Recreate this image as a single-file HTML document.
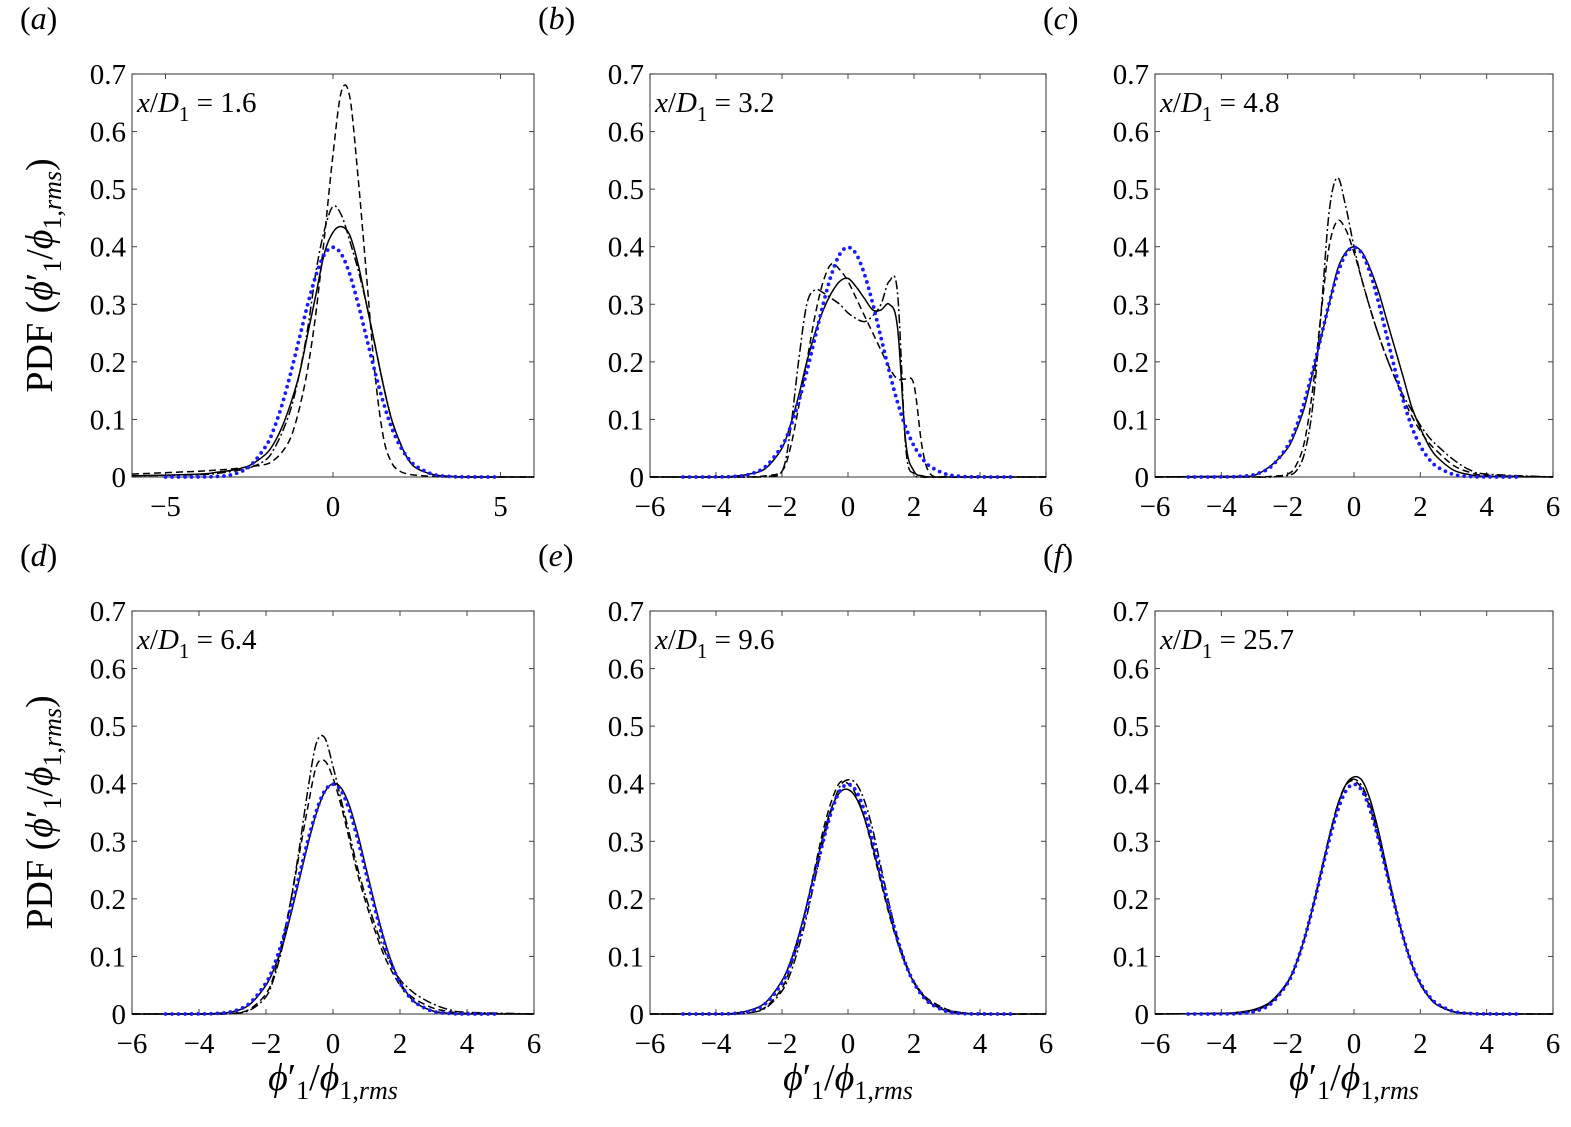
<!DOCTYPE html>
<html><head><meta charset="utf-8">
<style>
html,body{margin:0;padding:0;background:#fff;}
svg{display:block;font-family:"Liberation Serif","DejaVu Serif",serif;}
</style></head>
<body>
<svg id="fig" width="1571" height="1127" viewBox="0 0 1571 1127" xmlns="http://www.w3.org/2000/svg"></svg>
<script>
const xs = [-6,-4,-3.5,-3,-2.5,-2,-1.75,-1.5,-1.25,-1,-0.75,-0.5,-0.25,0,0.25,0.5,0.75,1,1.25,1.5,1.75,2,2.25,2.5,3,3.5,4,6];
const gx = [-5,-4,-3.5,-3,-2.5,-2,-1.75,-1.5,-1.25,-1,-0.75,-0.5,-0.25,0,0.25,0.5,0.75,1,1.25,1.5,1.75,2,2.25,2.5,3,3.5,4,5];
const gaussVals = [0,.0001,.0009,.0044,.018,.054,.086,.13,.183,.242,.301,.352,.387,.399,.387,.352,.301,.242,.183,.13,.086,.054,.032,.018,.0044,.0009,.0001,0];
const panelLabels = ["a","b","c","d","e","f"];
const stations = ["1.6","3.2","4.8","6.4","9.6","25.7"];
const yTicks = [0,0.1,0.2,0.3,0.4,0.5,0.6,0.7];
const xTicksA = [-5,0,5];
const xTicksOther = [-6,-4,-2,0,2,4,6];
const solidA = [.002,.005,.008,.012,.02,.04,.06,.09,.13,.18,.25,.32,.39,.425,.435,.42,.37,.30,.23,.16,.10,.06,.03,.015,.004,.001,0,0];
const dashedA = [.005,.01,.012,.014,.018,.022,.03,.045,.07,.12,.19,.29,.42,.56,.67,.66,.52,.35,.18,.07,.025,.01,.005,.003,.001,0,0,0];
const dashdotA = [.002,.004,.006,.01,.016,.03,.05,.08,.12,.18,.26,.36,.43,.47,.455,.41,.36,.30,.23,.16,.10,.06,.03,.015,.004,.001,0,0];
const solidB = [0,0,.001,.005,.015,.05,.09,.14,.2,.25,.29,.32,.34,.345,.33,.31,.29,.29,.30,.26,.06,.01,.002,0,0,0,0,0];
const dashedB = [0,0,0,0,.002,.01,.05,.12,.2,.28,.34,.37,.36,.34,.31,.28,.25,.22,.19,.17,.17,.16,.05,.005,0,0,0,0];
const dashdotB = [0,0,0,0,.001,.01,.08,.2,.3,.325,.32,.31,.30,.285,.275,.27,.28,.30,.34,.32,.05,.005,0,0,0,0,0,0];
const solidC = [0,.001,.001,.003,.02,.05,.08,.12,.18,.24,.30,.36,.39,.40,.39,.36,.32,.27,.22,.17,.12,.085,.055,.035,.012,.004,.001,0];
const dashedC = [0,0,0,0,.001,.005,.02,.06,.15,.28,.40,.445,.43,.39,.34,.29,.245,.205,.17,.135,.105,.08,.06,.045,.02,.008,.003,0];
const dashdotC = [0,0,0,0,0,.003,.01,.04,.12,.28,.46,.52,.47,.40,.34,.29,.245,.205,.17,.14,.115,.09,.07,.055,.03,.012,.005,0];
const solidD = [0,0,.001,.004,.016,.05,.08,.12,.175,.235,.295,.348,.385,.40,.392,.36,.31,.25,.19,.135,.09,.056,.033,.018,.005,.001,0,0];
const dashedD = [0,0,0,.001,.008,.035,.07,.13,.2,.28,.36,.43,.44,.41,.36,.30,.24,.19,.145,.105,.075,.05,.035,.024,.01,.004,.001,0];
const dashdotD = [0,0,0,.001,.006,.03,.065,.12,.2,.29,.39,.47,.48,.43,.37,.31,.25,.20,.155,.115,.085,.06,.045,.033,.017,.007,.003,0];
const solidE = [0,0,.001,.006,.02,.058,.09,.135,.19,.25,.31,.358,.385,.39,.375,.34,.29,.232,.176,.126,.085,.054,.033,.019,.005,.001,0,0];
const dashedE = [0,0,0,.002,.012,.045,.08,.128,.19,.255,.32,.37,.402,.40,.38,.34,.285,.228,.172,.124,.085,.056,.036,.023,.008,.002,0,0];
const dashdotE = [0,0,0,.002,.01,.04,.07,.115,.17,.235,.30,.355,.395,.407,.40,.37,.32,.255,.19,.132,.088,.056,.035,.021,.007,.002,0,0];
const solidF = [0,.001,.003,.008,.022,.056,.087,.13,.183,.243,.305,.36,.398,.412,.405,.37,.315,.25,.186,.13,.085,.052,.03,.016,.004,.001,0,0];
const dashedF = [0,.001,.002,.006,.02,.055,.087,.131,.185,.246,.308,.362,.397,.405,.39,.355,.302,.243,.183,.13,.086,.053,.031,.017,.004,.001,0,0];
const dashdotF = [0,.001,.002,.006,.02,.054,.086,.13,.184,.245,.307,.362,.398,.408,.395,.36,.305,.245,.184,.13,.086,.053,.031,.017,.004,.001,0,0];

const solids=[solidA,solidB,solidC,solidD,solidE,solidF];
const dasheds=[dashedA,dashedB,dashedC,dashedD,dashedE,dashedF];
const dashdots=[dashdotA,dashdotB,dashdotC,dashdotD,dashdotE,dashdotF];

const NS="http://www.w3.org/2000/svg";
const svg=document.getElementById('fig');
function mk(tag,attrs,parent){const e=document.createElementNS(NS,tag);for(const k in attrs)e.setAttribute(k,attrs[k]);(parent||svg).appendChild(e);return e;}
function smooth(pts){
  let d=`M${pts[0][0].toFixed(1)},${pts[0][1].toFixed(1)}`;
  for(let i=0;i<pts.length-1;i++){
    const p0=pts[Math.max(0,i-1)],p1=pts[i],p2=pts[i+1],p3=pts[Math.min(pts.length-1,i+2)];
    const c1=[p1[0]+(p2[0]-p0[0])/6,p1[1]+(p2[1]-p0[1])/6];
    const c2=[p2[0]-(p3[0]-p1[0])/6,p2[1]-(p3[1]-p1[1])/6];
    d+=`C${c1[0].toFixed(1)},${c1[1].toFixed(1)} ${c2[0].toFixed(1)},${c2[1].toFixed(1)} ${p2[0].toFixed(1)},${p2[1].toFixed(1)}`;
  }
  return d;
}
const cols=[[132,534],[650,1046],[1155,1553]];
const rows=[[74,477],[611,1014]];
for(let p=0;p<6;p++){
  const [L,R]=cols[p%3],[T,B]=rows[Math.floor(p/3)];
  const g=mk('g',{});
  
  
  const xmin=-6,xmax=6,ymax=0.7;
  const X=v=>L+(v-xmin)/(xmax-xmin)*(R-L);
  const Y=v=>B-v/ymax*(B-T);
  const lab=mk('text',{x:L-112,y:T-45,'font-size':32},g);
  lab.innerHTML='(<tspan font-style="italic">'+panelLabels[p]+'</tspan>)';
  
  
  const fr=mk('rect',{x:L,y:T,width:R-L,height:B-T,fill:'none',stroke:'#555','stroke-width':1.2},g);
  
  
  yTicks.forEach(t=>{
    mk('line',{x1:L,x2:L+5,y1:Y(t),y2:Y(t),stroke:'#444'},g);
    mk('line',{x1:R,x2:R-5,y1:Y(t),y2:Y(t),stroke:'#444'},g);
    const tl=mk('text',{x:L-6,y:Y(t)+10,'font-size':29,'text-anchor':'end'},g);
    tl.textContent=String(t);
    
    
  });
  const xt=p===0?xTicksA:xTicksOther;
  xt.forEach(t=>{
    mk('line',{x1:X(t),x2:X(t),y1:B,y2:B-5,stroke:'#444'},g);
    mk('line',{x1:X(t),x2:X(t),y1:T,y2:T+5,stroke:'#444'},g);
    const tl=mk('text',{x:X(t),y:B+39,'font-size':29,'text-anchor':'middle'},g);
    tl.textContent=t<0?'\u2212'+(-t):String(t);
    
    
  });
  const st=mk('text',{x:L+5,y:T+38,'font-size':29},g);
  st.innerHTML='<tspan font-style="italic">x</tspan>/<tspan font-style="italic">D</tspan><tspan font-size="21" dy="9">1</tspan><tspan dy="-9"> = '+stations[p]+'</tspan>';
  
  
  const series=[[solids[p],'none','solid-line'],[dasheds[p],'7 4','dashed-line'],[dashdots[p],'9 3 2 3','dashdot-line']];
  series.forEach(([vals,da,nm])=>{
    const pts=xs.map((x,i)=>[X(x),Y(vals[i])]);
    const pa=mk('path',{d:smooth(pts),fill:'none',stroke:'#000','stroke-width':1.5,'stroke-dasharray':da},g);
    
    
  });
  const gp=gx.map((x,i)=>[X(x),Y(gaussVals[i])]);
  const gpath=mk('path',{d:smooth(gp),fill:'none',stroke:'#1a1aff','stroke-width':3.8,'stroke-linecap':'round','stroke-dasharray':'0 6.5'},g);
  
  
  if(p%3===0){
    const cy=(T+B)/2;
    const yl=mk('text',{x:0,y:0,'font-size':38,'text-anchor':'middle',transform:`translate(52,${cy}) rotate(-90)`},g);
    yl.innerHTML='PDF (<tspan font-style="italic">ϕ</tspan>′<tspan font-size="26" dy="9">1</tspan><tspan dy="-9">/</tspan><tspan font-style="italic">ϕ</tspan><tspan font-size="26" dy="9">1,<tspan font-style="italic">rms</tspan></tspan><tspan dy="-9">)</tspan>';
    
    
  }
  if(p>=3){
    const xl=mk('text',{x:(L+R)/2,y:1090,'font-size':38,'text-anchor':'middle'},g);
    xl.innerHTML='<tspan font-style="italic">ϕ</tspan>′<tspan font-size="26" dy="9">1</tspan><tspan dy="-9">/</tspan><tspan font-style="italic">ϕ</tspan><tspan font-size="26" dy="9">1,<tspan font-style="italic">rms</tspan></tspan>';
    
    
  }
}
</script>
</body></html>
